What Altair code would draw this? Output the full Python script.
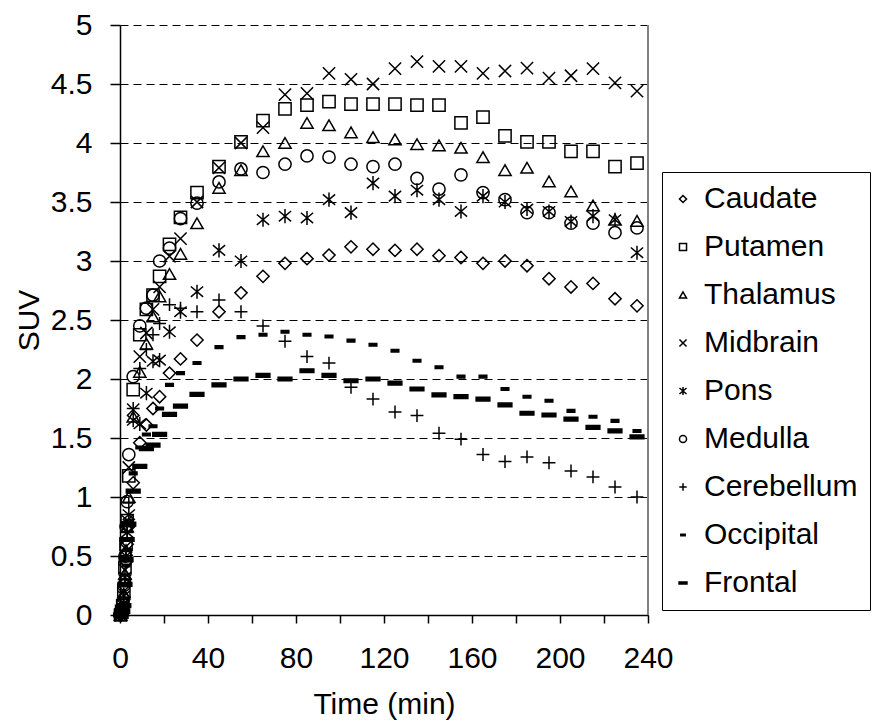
import altair as alt
import pandas as pd

# Frame mid-times (min)
times = [0.25, 0.75, 1.25, 1.75, 2.25, 2.75, 3.25, 4, 6, 9, 12, 15, 18, 22.5, 27.5,
         35, 45, 55, 65, 75, 85, 95, 105, 115, 125, 135, 145, 155, 165, 175, 185,
         195, 205, 215, 225, 235]

caudate = [0, 0.02, 0.06, 0.15, 0.3, 0.45, 0.6, 0.75, 1.12, 1.46, 1.61, 1.75, 1.85, 2.05, 2.17,
           2.33, 2.57, 2.73, 2.87, 2.98, 3.02, 3.05, 3.12, 3.10, 3.09, 3.10, 3.045, 3.03, 2.98, 3.0, 2.96,
           2.85, 2.78, 2.81, 2.68, 2.62]
putamen = [0, 0.03, 0.08, 0.2, 0.4, 0.6, 0.8, 1.18, 1.91, 2.375, 2.59, 2.71, 2.87, 3.14, 3.37,
           3.58, 3.80, 4.01, 4.19, 4.29, 4.32, 4.35, 4.33, 4.33, 4.33, 4.32, 4.32, 4.17, 4.22, 4.06, 4.01,
           4.01, 3.93, 3.93, 3.80, 3.83]
thalamus = [0, 0.02, 0.07, 0.18, 0.35, 0.55, 0.75, 1.0, 1.68, 2.06, 2.30, 2.53, 2.70, 2.89, 3.06,
            3.32, 3.62, 3.77, 3.93, 4.0, 4.17, 4.15, 4.09, 4.05, 4.03, 3.99, 3.98, 3.96, 3.88, 3.77, 3.79,
            3.675, 3.59, 3.47, 3.35, 3.34]
midbrain = [0, 0.03, 0.08, 0.2, 0.38, 0.58, 0.8, 1.25, 1.74, 2.19, 2.39, 2.59, 2.78, 3.04, 3.19,
            3.50, 3.79, 4.0, 4.13, 4.41, 4.42, 4.59, 4.54, 4.50, 4.63, 4.69, 4.65, 4.65, 4.59, 4.61, 4.635,
            4.55, 4.57, 4.63, 4.51, 4.44]
pons = [0, 0.02, 0.06, 0.16, 0.32, 0.5, 0.7, 0.85, 1.65, 1.62, 1.88, 2.15, 2.16, 2.40, 2.57,
        2.74, 3.09, 3.0, 3.35, 3.38, 3.365, 3.52, 3.41, 3.66, 3.55, 3.60, 3.52, 3.42, 3.55, 3.50, 3.44,
        3.42, 3.335, 3.38, 3.35, 3.07]
medulla = [0.02, 0.05, 0.1, 0.25, 0.5, 0.75, 0.96, 1.36, 2.02, 2.45, 2.60, 2.71, 3.0, 3.11, 3.36,
           3.49, 3.67, 3.78, 3.75, 3.82, 3.89, 3.88, 3.82, 3.80, 3.82, 3.70, 3.61, 3.73, 3.58, 3.52, 3.41,
           3.41, 3.32, 3.32, 3.24, 3.28]
cerebellum = [0, 0.02, 0.06, 0.15, 0.3, 0.5, 0.7, 0.95, 1.75, 2.09, 2.25, 2.375, 2.47, 2.63, 2.6,
              2.57, 2.67, 2.57, 2.45, 2.32, 2.19, 2.135, 1.93, 1.83, 1.72, 1.69, 1.54, 1.49, 1.36, 1.30, 1.34,
              1.29, 1.22, 1.17, 1.085, 1.0]
occipital = [0, 0.01, 0.04, 0.1, 0.25, 0.42, 0.55, 0.8, 1.2, 1.42, 1.53, 1.60, 1.75, 1.95, 2.05,
             2.135, 2.27, 2.355, 2.375, 2.40, 2.375, 2.36, 2.325, 2.29, 2.24, 2.155, 2.10, 2.02, 2.02, 1.915, 1.85,
             1.815, 1.73, 1.68, 1.645, 1.56]
frontal = [0, 0.01, 0.03, 0.08, 0.26, 0.47, 0.64, 0.77, 1.05, 1.26, 1.41, 1.44, 1.53, 1.70, 1.77,
           1.87, 1.95, 2.0, 2.03, 2.0, 2.07, 2.03, 1.985, 2.0, 1.965, 1.915, 1.865, 1.85, 1.83, 1.78, 1.71,
           1.695, 1.66, 1.59, 1.56, 1.51]

regions = ["Caudate", "Putamen", "Thalamus", "Midbrain", "Pons", "Medulla",
           "Cerebellum", "Occipital", "Frontal"]
series = [caudate, putamen, thalamus, midbrain, pons, medulla, cerebellum, occipital, frontal]

rows = []
for name, vals in zip(regions, series):
    for t, v in zip(times, vals):
        rows.append({"Time": t, "SUV": v, "Region": name})
df = pd.DataFrame(rows)

shape_range = [
    "diamond",
    "square",
    "triangle-up",
    "M-1,-1L1,1M-1,1L1,-1",
    "M-1,-0.85L1,0.85M-1,0.85L1,-0.85M0,-1.15L0,1.15",
    "circle",
    "M-1.05,0L1.05,0M0,-1.05L0,1.05",
    "M-0.62,-0.21L0.62,-0.21L0.62,0.21L-0.62,0.21Z",
    "M-1.12,-0.3L1.12,-0.3L1.12,0.3L-1.12,0.3Z",
]
fill_range = ["transparent"] * 7 + ["black", "black"]
stroke_range = ["black"] * 9

FONT = "Liberation Sans"

legend = alt.Legend(
    title=None, orient="none", legendX=542, legendY=147,
    strokeColor="black", fillColor="white", padding=12, rowPadding=18,
    labelFontSize=30, labelFont=FONT, labelColor="black", labelOffset=6,
    symbolSize=50, symbolStrokeWidth=1.5, symbolOffset=-6,
    cornerRadius=0,
)

x_enc = alt.X(
    "Time:Q",
    scale=alt.Scale(domain=[0, 240], nice=False, zero=True),
    axis=alt.Axis(
        values=list(range(0, 241, 20)),
        labelExpr="datum.value % 40 == 0 ? datum.label : ''",
        title="Time (min)", grid=False, labelFlush=False, labelOverlap=False,
        tickSize=8, labelPadding=20, titlePadding=16,
    ),
)
y_enc = alt.Y(
    "SUV:Q",
    scale=alt.Scale(domain=[0, 5], nice=False),
    axis=alt.Axis(
        values=[0, 0.5, 1, 1.5, 2, 2.5, 3, 3.5, 4, 4.5, 5], format="~g",
        title="SUV", grid=True, gridDash=[8, 5], gridColor="black", gridWidth=1,
        tickSize=10, labelPadding=18, titlePadding=6, labelFlush=False,
    ),
)

points = alt.Chart(df).mark_point(
    filled=True, strokeWidth=1.5, size=150, opacity=1
).encode(
    x=x_enc,
    y=y_enc,
    shape=alt.Shape("Region:N", scale=alt.Scale(domain=regions, range=shape_range), legend=legend),
    fill=alt.Fill("Region:N", scale=alt.Scale(domain=regions, range=fill_range), legend=legend),
    stroke=alt.Stroke("Region:N", scale=alt.Scale(domain=regions, range=stroke_range), legend=legend),
)

border = alt.Chart(df).mark_rule(color="#808080", strokeWidth=1.5).encode(x=alt.datum(240))

chart = alt.layer(border, points).properties(
    width=528, height=590,
    padding={"left": 120, "top": 25, "right": 225, "bottom": 108},
    autosize="none",
).configure_view(stroke=None).configure_axis(
    domainColor="black", domainWidth=1.5, tickColor="black", tickWidth=1.5,
    labelFont=FONT, labelFontSize=30, labelColor="black",
    titleFont=FONT, titleFontSize=30, titleFontWeight="normal", titleColor="black",
)

chart.save("out.html", embed_options={"renderer": "svg", "actions": False})
